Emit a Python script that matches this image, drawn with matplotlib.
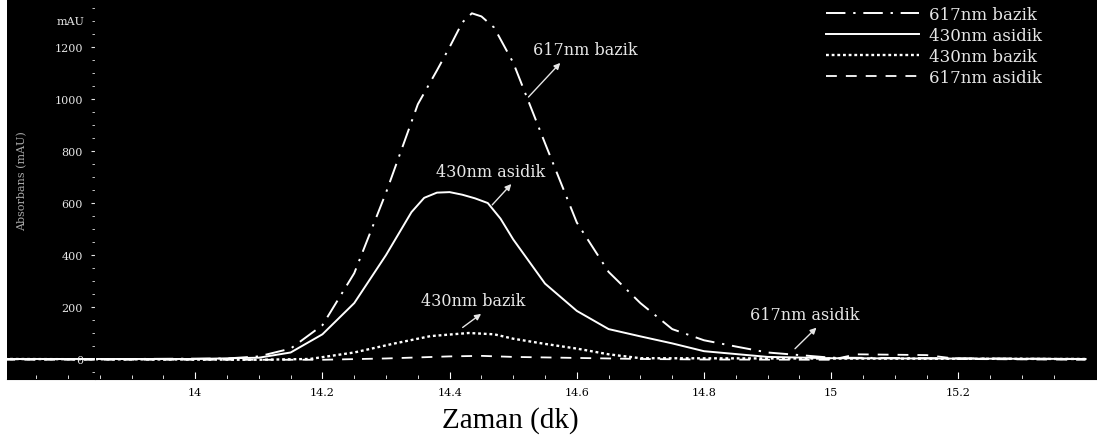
import numpy as np
import matplotlib
matplotlib.use('Agg')
import matplotlib.pyplot as plt

# data (time in min, absorbance in mAU)
t_617_bazik = [13.70, 13.90, 14.05, 14.10, 14.15, 14.20, 14.25, 14.30, 14.35, 14.38,
               14.40, 14.42, 14.435, 14.45, 14.47, 14.50, 14.55, 14.60, 14.65, 14.70,
               14.75, 14.80, 14.85, 14.90, 15.00, 15.40]
a_617_bazik = [0, 0, 2, 10, 40, 130, 330, 640, 980, 1110,
               1200, 1295, 1330, 1318, 1275, 1140, 830, 525, 335, 215,
               115, 72, 48, 25, 5, 0]

t_430_asidik = [13.70, 14.00, 14.10, 14.15, 14.20, 14.25, 14.30, 14.34, 14.36, 14.38,
                14.40, 14.42, 14.44, 14.46, 14.48, 14.50, 14.55, 14.60, 14.65, 14.70,
                14.75, 14.80, 14.90, 15.00, 15.40]
a_430_asidik = [0, 0, 5, 25, 95, 215, 400, 565, 620, 640,
                642, 632, 618, 600, 540, 460, 290, 185, 115, 87,
                60, 30, 8, 3, 0]

t_430_bazik = [13.70, 14.10, 14.18, 14.25, 14.31, 14.37, 14.43, 14.47, 14.50, 14.55,
               14.60, 14.65, 14.70, 15.40]
a_430_bazik = [0, -3, 0, 25, 58, 88, 100, 95, 78, 58,
               40, 18, 3, 0]

t_617_asidik = [13.70, 14.20, 14.30, 14.40, 14.45, 14.50, 14.60, 14.70, 14.80, 15.00,
                15.04, 15.15, 15.20, 15.40]
a_617_asidik = [-3, -3, 2, 10, 12, 8, 4, 0, -2, -3,
                18, 15, 0, -3]

y_ticks = [0, 200, 400, 600, 800, 1000, 1200]
x_ticks = [14, 14.2, 14.4, 14.6, 14.8, 15, 15.2]
x_tick_labels = ['14', '14.2', '14.4', '14.6', '14.8', '15', '15.2']

serif = ['DejaVu Serif']
txt = '#e6e6e6'

fig = plt.figure(figsize=(10.97, 4.39), dpi=100)
ax = fig.add_axes([0.0064, 0.1344, 0.9936, 0.8656])
ax.set_facecolor('black')

ax.plot(t_617_bazik, a_617_bazik, color='white', lw=1.4,
        dashes=(10, 4, 1.2, 4), label='617nm bazik')
ax.plot(t_430_asidik, a_430_asidik, color='white', lw=1.4, label='430nm asidik')
ax.plot(t_430_bazik, a_430_bazik, color='white', lw=1.7,
        dashes=(1.2, 1.2), label='430nm bazik')
ax.plot(t_617_asidik, a_617_asidik, color='white', lw=1.3,
        dashes=(6, 5), label='617nm asidik')

ax.set_xlim(13.704, 15.418)
ax.set_ylim(-77, 1385)

# y axis sits inside the black area
for s in ['top', 'right', 'bottom', 'left']:
    ax.spines[s].set_color('black')
ax.spines['left'].set_position(('data', 13.843))
ax.set_yticks(y_ticks)
ax.set_yticks(np.arange(-50, 1351, 50), minor=True)
ax.tick_params(axis='y', which='both', colors=txt, labelsize=8, length=3,
               direction='out', pad=6)
ax.tick_params(axis='y', which='minor', length=2)
for lab in ax.get_yticklabels():
    lab.set_family(serif)
ax.text(13.826, 1300, 'mAU', color=txt, fontsize=8, ha='right', va='center',
        family=serif)
ax.text(13.728, 690, 'Absorbans (mAU)', color='#aaaaaa', fontsize=8, rotation=90,
        ha='center', va='center', family=serif)

# x axis: ticks inside, labels in the white strip below
ax.set_xticks(x_ticks)
ax.set_xticklabels(x_tick_labels, family=serif, fontsize=8, color='black')
ax.set_xticks(np.arange(13.75, 15.36, 0.05), minor=True)
ax.tick_params(axis='x', which='both', direction='in', color='white', length=3, pad=6)
ax.tick_params(axis='x', which='major', length=5)
ax.set_xlabel('Zaman (dk)', family=['Liberation Serif', 'DejaVu Serif'], fontsize=21)
ax.xaxis.set_label_coords(0.4615, -0.072)

# labels with small arrows pointing from the curves to the text
notes = [('617nm bazik', 14.613, 1192, 14.521, 1000, 14.577, 1147),
         ('430nm asidik', 14.464, 723, 14.464, 585, 14.500, 681),
         ('430nm bazik', 14.437, 224, 14.417, 115, 14.453, 180),
         ('617nm asidik', 14.959, 173, 14.940, 32, 14.980, 128)]
for label, tx, ty, x0, y0, x1, y1 in notes:
    ax.text(tx, ty, label, color=txt, fontsize=11.5, ha='center', va='center',
            family=serif)
    ax.annotate('', xy=(x1, y1), xytext=(x0, y0),
                arrowprops=dict(arrowstyle='-|>', color=txt, lw=1.0,
                                mutation_scale=9))

leg = ax.legend(loc='upper right', frameon=False, handlelength=5.6,
                handletextpad=0.6, labelcolor=txt,
                prop={'family': serif, 'size': 12},
                borderaxespad=0.0, labelspacing=0.25, bbox_to_anchor=(0.956, 1.0))

fig.savefig('out.png', dpi=100)
